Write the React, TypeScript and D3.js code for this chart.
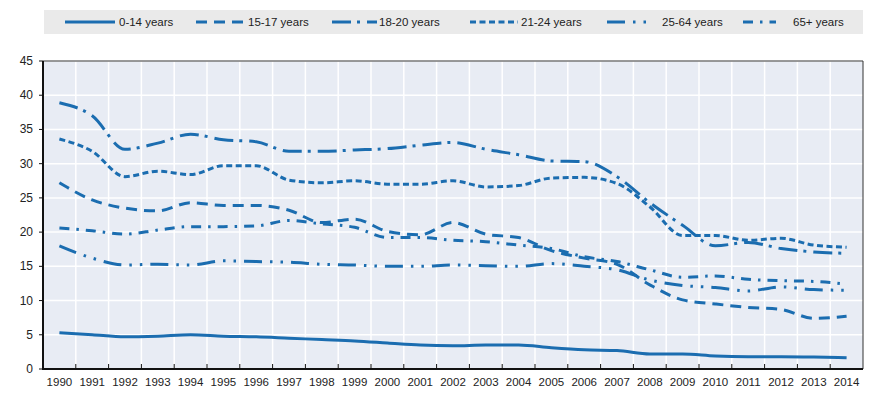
import * as d3 from 'd3'

const years = [
  '1990', '1991', '1992', '1993', '1994', '1995', '1996', '1997', '1998', '1999', '2000', '2001', '2002',
  '2003', '2004', '2005', '2006', '2007', '2008', '2009', '2010', '2011', '2012', '2013', '2014'
]

const age0to14 = [5.3, 5.0, 4.7, 4.8, 5.0, 4.8, 4.7, 4.5, 4.3, 4.1, 3.8, 3.5, 3.4, 3.5, 3.5, 3.1, 2.8, 2.7, 2.2, 2.2, 1.9, 1.8, 1.8, 1.75, 1.65]
const age15to17 = [27.2, 24.7, 23.5, 23.1, 24.3, 23.9, 23.9, 23.2, 21.4, 21.9, 20.1, 19.6, 21.4, 19.7, 19.2, 17.3, 16.2, 15.3, 12.3, 10.1, 9.5, 9.0, 8.7, 7.4, 7.7]
const age18to20 = [38.9, 37.0, 32.1, 33.0, 34.3, 33.5, 33.2, 31.8, 31.8, 32.0, 32.2, 32.7, 33.1, 32.1, 31.3, 30.4, 30.3, 28.1, 24.3, 21.0, 18.0, 18.5, 17.6, 17.1, 16.9]
const age21to24 = [33.6, 31.8, 28.1, 28.9, 28.4, 29.7, 29.7, 27.6, 27.2, 27.5, 27.0, 27.0, 27.5, 26.6, 26.8, 27.9, 28.0, 27.1, 23.7, 19.5, 19.5, 18.8, 19.1, 18.1, 17.8]
const age25to64 = [18.0, 16.2, 15.2, 15.3, 15.2, 15.8, 15.7, 15.6, 15.3, 15.2, 15.0, 15.0, 15.2, 15.1, 15.0, 15.4, 15.0, 14.5, 13.0, 12.2, 11.9, 11.4, 12.0, 11.6, 11.5]
const age65plus = [20.6, 20.2, 19.7, 20.3, 20.8, 20.8, 20.9, 21.7, 21.2, 20.7, 19.2, 19.2, 18.8, 18.6, 18.1, 17.6, 16.4, 15.7, 14.5, 13.4, 13.6, 13.1, 12.9, 12.8, 12.4]

const yTicks = [0, 5, 10, 15, 20, 25, 30, 35, 40, 45]

const series = [
  { label: '0-14 years', values: age0to14, dash: 'none' },
  { label: '15-17 years', values: age15to17, dash: '11,7' },
  { label: '18-20 years', values: age18to20, dash: '19,6,3,7' },
  { label: '21-24 years', values: age21to24, dash: '6,3.5' },
  { label: '25-64 years', values: age25to64, dash: '18,8,2.5,8,2.5,8' },
  { label: '65+ years', values: age65plus, dash: '10,7,2.5,7' }
]

// legend positions: line start, line end, text start
const legendPos = [
  [65, 115, 119],
  [196, 244, 248],
  [332, 377, 379],
  [470, 518, 521],
  [607, 652, 662],
  [743, 776, 793]
]

const BLUE = '#1b6db0'
const FONT = 'Liberation Sans, Arial, sans-serif'

export default function App() {
  const width = 875
  const height = 403
  const left = 43
  const right = 863
  const top = 61
  const bottom = 369

  const x = d3.scaleBand<string>().domain(years).range([left, right]).padding(0)
  const y = d3.scaleLinear().domain([0, 45]).range([bottom, top])
  const cx = (i: number) => (x(years[i]) ?? 0) + x.bandwidth() / 2

  const line = d3.line<number>()
    .x((_, i) => cx(i))
    .y(d => y(d))
    .curve(d3.curveMonotoneX)

  const boundaries = years.slice(1).map(yr => x(yr) ?? 0)

  return (
    <svg width={width} height={height} style={{ position: 'absolute', left: 0, top: 0, fontFamily: FONT }}>
      <rect x={0} y={0} width={width} height={height} fill="#ffffff" />

      {/* legend */}
      <rect x={left + 1} y={10} width={right - left - 1} height={24} fill="#eaeaea" />
      {series.map((s, i) => (
        <g key={s.label}>
          <line x1={legendPos[i][0]} x2={legendPos[i][1]} y1={22} y2={22}
            stroke={BLUE} strokeWidth={3} strokeDasharray={s.dash} />
          <text x={legendPos[i][2]} y={26} fontSize={11.5} fill="#222">{s.label}</text>
        </g>
      ))}

      {/* plot area */}
      <rect x={left} y={top} width={right - left} height={bottom - top} fill="#e8ecf4" />
      {yTicks.slice(1).map(t => (
        <line key={t} x1={left} x2={right} y1={y(t)} y2={y(t)} stroke="#ffffff" strokeWidth={1.5} />
      ))}
      {boundaries.map((bx, i) => (
        <line key={i} x1={bx} x2={bx} y1={top} y2={bottom} stroke="#ffffff" strokeWidth={1.5} />
      ))}

      {/* border */}
      <line x1={left} x2={right} y1={top} y2={top} stroke="#333" strokeWidth={1} />
      <line x1={right} x2={right} y1={top} y2={bottom} stroke="#333" strokeWidth={1} />

      {/* series */}
      {series.map(s => (
        <path key={s.label} d={line(s.values) ?? ''} fill="none" stroke={BLUE}
          strokeWidth={3} strokeDasharray={s.dash} />
      ))}

      {/* axes */}
      <line x1={left} x2={left} y1={top} y2={bottom + 1} stroke="#111" strokeWidth={2} />
      <line x1={left - 1} x2={right} y1={bottom} y2={bottom} stroke="#111" strokeWidth={2} />
      {yTicks.map(t => (
        <g key={t}>
          <line x1={left - 4} x2={left} y1={y(t)} y2={y(t)} stroke="#111" strokeWidth={1} />
          <text x={33} y={y(t) + 4} fontSize={12} textAnchor="end" fill="#222">{t}</text>
        </g>
      ))}
      {boundaries.map((bx, i) => (
        <line key={i} x1={bx} x2={bx} y1={bottom} y2={bottom - 5} stroke="#111" strokeWidth={1} />
      ))}
      {years.map((yr, i) => (
        <text key={yr} x={cx(i)} y={386} fontSize={11.5} textAnchor="middle" fill="#222">{yr}</text>
      ))}
    </svg>
  )
}
